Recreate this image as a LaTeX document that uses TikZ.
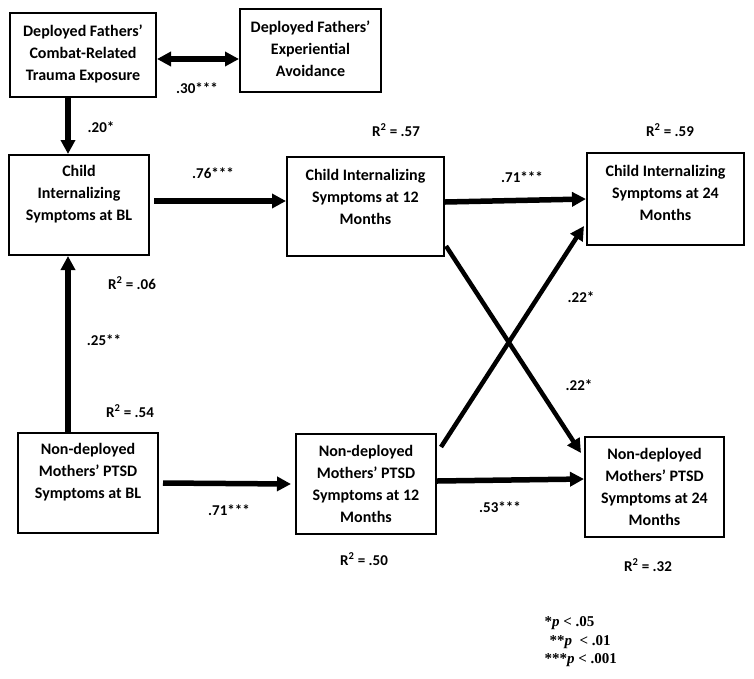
\documentclass[tikz,border=0pt]{standalone}
\usepackage{fontspec}
\setmainfont{Carlito}
\newfontfamily\legendfont{Liberation Serif}
\usetikzlibrary{arrows.meta}
\begin{document}
\begin{tikzpicture}[x=1pt,y=-1pt,>={Triangle[length=14pt,width=14pt]},
    box/.style={draw,line width=2pt,inner sep=0pt},
    txt/.style={align=center,font=\bfseries\fontsize{16}{22}\selectfont},
    lab/.style={font=\bfseries\fontsize{15}{18}\selectfont},
    conn/.style={line width=5.5pt},
    cross/.style={line width=4.5pt},
    leg/.style={anchor=west,font=\legendfont\bfseries\fontsize{15}{18}\selectfont}]
    \useasboundingbox (0,0) rectangle (754,678);
    % boxes
    \node [box,minimum width=146pt,minimum height=84pt] (trauma) at (83,55) {};
    \node [txt] (trauma-t) at ([yshift=1.5pt]trauma) {Deployed Fathers’\\Combat-Related\\Trauma Exposure};
    \node [box,minimum width=141pt,minimum height=83pt] (avoid) at (310.5,50.5) {};
    \node [txt] (avoid-t) at ([yshift=2pt]avoid) {Deployed Fathers’\\Experiential\\Avoidance};
    \node [box,minimum width=140pt,minimum height=100pt] (cbl) at (79,205) {};
    \node [txt] (cbl-t) at ([yshift=10.5pt]cbl) {Child\\Internalizing\\Symptoms at BL};
    \node [box,minimum width=157pt,minimum height=99pt] (c12) at (365.5,206.5) {};
    \node [txt] (c12-t) at ([yshift=9.5pt]c12) {Child Internalizing\\Symptoms at 12\\Months};
    \node [box,minimum width=157pt,minimum height=92pt] (c24) at (665.5,199) {};
    \node [txt] (c24-t) at ([yshift=6pt]c24) {Child Internalizing\\Symptoms at 24\\Months};
    \node [box,minimum width=140pt,minimum height=100pt] (mbl) at (88,483) {};
    \node [txt] (mbl-t) at ([yshift=10.5pt]mbl) {Non-deployed\\Mothers’ PTSD\\Symptoms at BL};
    \node [box,minimum width=140pt,minimum height=100pt] (m12) at (366,484) {};
    \node [txt] (m12-t) at (m12) {Non-deployed\\Mothers’ PTSD\\Symptoms at 12\\Months};
    \node [box,minimum width=139pt,minimum height=100pt] (m24) at (654.5,487) {};
    \node [txt] (m24-t) at (m24) {Non-deployed\\Mothers’ PTSD\\Symptoms at 24\\Months};
    % paths
    \draw [<->,conn] ([yshift=-4pt]trauma.east) -- ([yshift=-8.5pt]avoid.west);
    \draw [->,conn] ([xshift=-15pt]trauma.south) -- ([xshift=-11pt]cbl.north);
    \draw [->,conn] ([xshift=-20pt]mbl.north) -- ([xshift=-11pt]cbl.south);
    \draw [->,conn] ([xshift=4pt,yshift=4pt]cbl.east) -- ([yshift=5.5pt]c12.west);
    \draw [->,conn] ([yshift=4.5pt]c12.east) -- (c24.west);
    \draw [->,conn] ([xshift=4pt]mbl.east) -- ([xshift=-4pt]m12.west);
    \draw [->,conn] ([yshift=3pt]m12.east) -- ([yshift=8pt]m24.west);
    \draw [->,cross] ([xshift=1pt,yshift=11pt]c12.south east) -- ([xshift=-3pt,yshift=34pt]m24.west);
    \draw [->,cross] ([xshift=4pt,yshift=-14pt]m12.north east) -- ([xshift=-2pt,yshift=20pt]c24.south west);
    % coefficients
    \node [lab] (b30) at (197,88) {.30***};
    \node [lab] (b20) at (101,127) {.20*};
    \node [lab] (b76) at (213,173) {.76***};
    \node [lab] (b71c) at (522,177) {.71***};
    \node [lab] (b25) at (104,340) {.25**};
    \node [lab] (b71m) at (229,510) {.71***};
    \node [lab] (b53) at (500,507) {.53***};
    \node [lab] (b22a) at (581,297) {.22*};
    \node [lab] (b22b) at (579,385) {.22*};
    \node [lab] (r57) at (396,130) {R\textsuperscript{2} = .57};
    \node [lab] (r59) at (670,130) {R\textsuperscript{2} = .59};
    \node [lab] (r06) at (132,283) {R\textsuperscript{2} = .06};
    \node [lab] (r54) at (130,411) {R\textsuperscript{2} = .54};
    \node [lab] (r50) at (364,559) {R\textsuperscript{2} = .50};
    \node [lab] (r32) at (648,565) {R\textsuperscript{2} = .32};
    % legend
    \node [leg] (p05) at (541,623) {*\textit{p} < .05};
    \node [leg] (p01) at (546,642) {**\textit{p}\ \ < .01};
    \node [leg] (p001) at (541,660) {***\textit{p} < .001};
\end{tikzpicture}
\end{document}
